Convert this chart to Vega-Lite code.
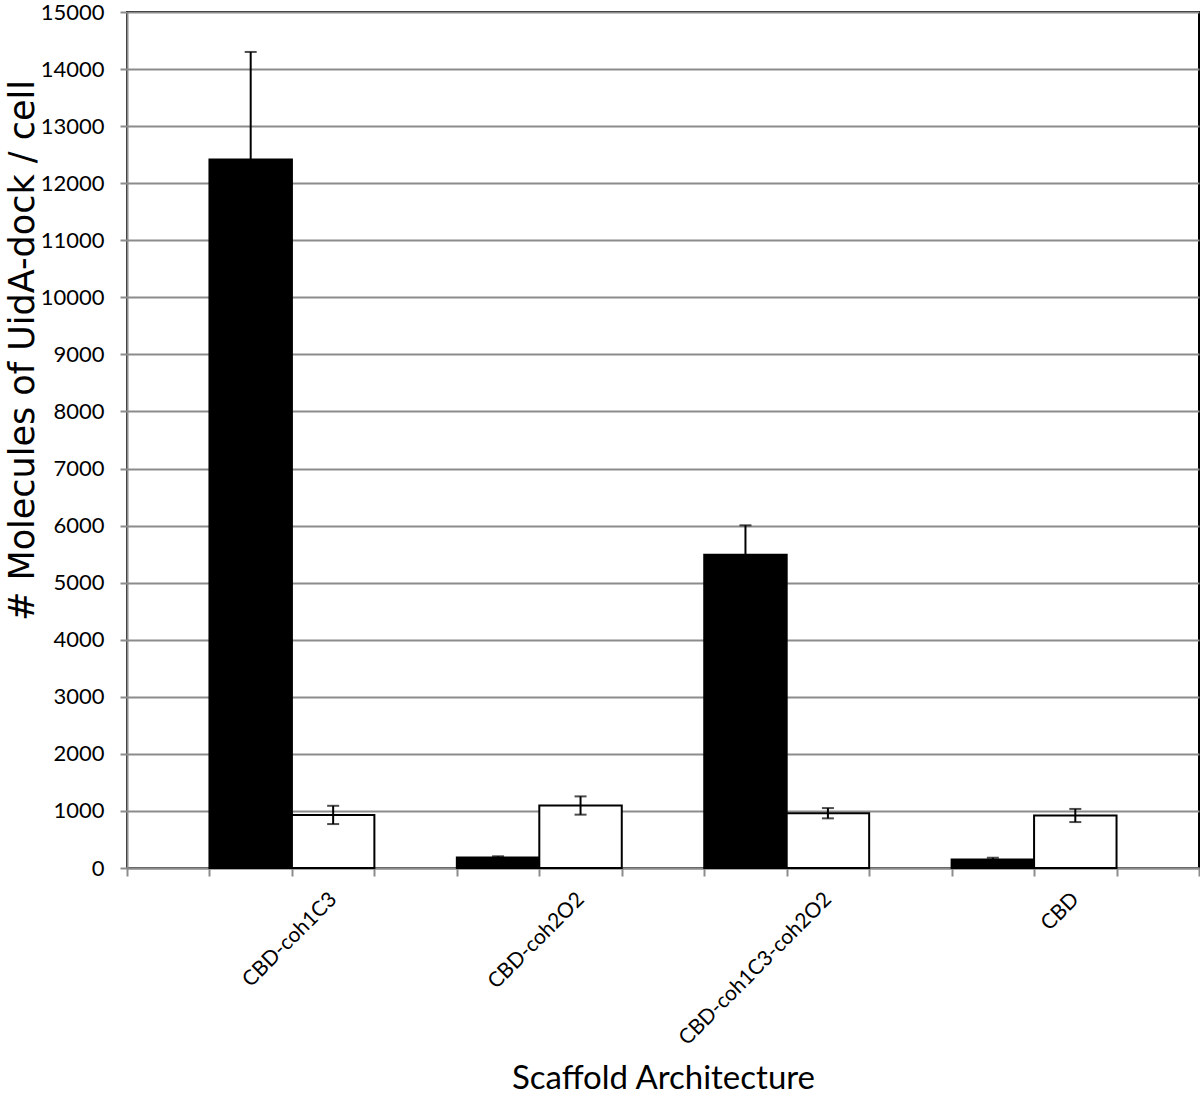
{
  "$schema": "https://vega.github.io/schema/vega-lite/v6.json",
  "width": 1072,
  "height": 856,
  "autosize": {"type": "none"},
  "padding": {"left": 127, "top": 12, "right": 1, "bottom": 227},
  "background": "white",
  "config": {
    "view": {"stroke": "#000000", "strokeWidth": 2},
    "font": "Lato"
  },
  "data": {
    "values": [
      {"bar": "CBD-coh1C3|black", "scaffold": "CBD-coh1C3", "condition": "black", "value": 12415, "lo": 10530, "hi": 14300},
      {"bar": "CBD-coh1C3|white", "scaffold": "CBD-coh1C3", "condition": "white", "value": 930, "lo": 770, "hi": 1090},
      {"bar": "CBD-coh2O2|black", "scaffold": "CBD-coh2O2", "condition": "black", "value": 185, "lo": 165, "hi": 205},
      {"bar": "CBD-coh2O2|white", "scaffold": "CBD-coh2O2", "condition": "white", "value": 1095, "lo": 935, "hi": 1255},
      {"bar": "CBD-coh1C3-coh2O2|black", "scaffold": "CBD-coh1C3-coh2O2", "condition": "black", "value": 5490, "lo": 4975, "hi": 6005},
      {"bar": "CBD-coh1C3-coh2O2|white", "scaffold": "CBD-coh1C3-coh2O2", "condition": "white", "value": 960, "lo": 870, "hi": 1050},
      {"bar": "CBD|black", "scaffold": "CBD", "condition": "black", "value": 150, "lo": 120, "hi": 180},
      {"bar": "CBD|white", "scaffold": "CBD", "condition": "white", "value": 920, "lo": 805, "hi": 1035}
    ]
  },
  "layer": [
    {
      "mark": {"type": "bar", "stroke": "#000000", "strokeWidth": 2},
      "encoding": {
        "x": {
          "field": "bar",
          "type": "nominal",
          "sort": null,
          "scale": {
            "domain": ["gap0", "CBD-coh1C3|black", "CBD-coh1C3|white", "gap1", "CBD-coh2O2|black", "CBD-coh2O2|white", "gap2", "CBD-coh1C3-coh2O2|black", "CBD-coh1C3-coh2O2|white", "gap3", "CBD|black", "CBD|white", "gap4"],
            "paddingInner": 0,
            "paddingOuter": 0
          },
          "axis": {
            "orient": "bottom",
            "title": "Scaffold Architecture",
            "titleFontSize": 33,
            "titleFontWeight": "normal",
            "titleColor": "#000000",
            "titleY": 194,
            "titleBaseline": "top",
            "labelExpr": "isString(datum.value) && indexof(datum.value, '|white') > 0 ? replace(datum.value, '|white', '') : ''",
            "labelAngle": -45,
            "labelAlign": "right",
            "labelBaseline": "middle",
            "labelFontSize": 21,
            "labelColor": "#000000",
            "labelPadding": 20,
            "labelLimit": 500,
            "tickBand": "extent",
            "tickSize": 8,
            "tickColor": "#8c8c8c",
            "tickWidth": 2,
            "domainColor": "#8c8c8c",
            "domainWidth": 2,
            "grid": false
          }
        },
        "y": {
          "field": "value",
          "type": "quantitative",
          "scale": {"domain": [0, 15000], "nice": false},
          "axis": {
            "orient": "left",
            "title": "# Molecules of UidA-dock / cell",
            "titleFont": "DejaVu Sans",
            "titleFontSize": 35,
            "titleFontWeight": "normal",
            "titleColor": "#000000",
            "titleX": -87,
            "titleY": 338,
            "titleAngle": -90,
            "titleAlign": "center",
            "titleBaseline": "bottom",
            "values": [0, 1000, 2000, 3000, 4000, 5000, 6000, 7000, 8000, 9000, 10000, 11000, 12000, 13000, 14000, 15000],
            "format": "d",
            "labelFontSize": 22,
            "labelColor": "#000000",
            "labelPadding": 16,
            "tickSize": 7,
            "tickColor": "#8c8c8c",
            "tickWidth": 2,
            "domainColor": "#8c8c8c",
            "domainWidth": 2,
            "grid": true,
            "gridColor": "#8c8c8c",
            "gridWidth": 2
          }
        },
        "fill": {
          "field": "condition",
          "type": "nominal",
          "scale": {"domain": ["black", "white"], "range": ["#000000", "#ffffff"]},
          "legend": null
        }
      }
    },
    {
      "mark": {"type": "rule", "color": "#000000", "strokeWidth": 2},
      "encoding": {
        "x": {"field": "bar", "type": "nominal"},
        "y": {"field": "lo", "type": "quantitative"},
        "y2": {"field": "hi"}
      }
    },
    {
      "mark": {"type": "tick", "color": "#000000", "size": 12, "thickness": 2, "orient": "horizontal"},
      "encoding": {
        "x": {"field": "bar", "type": "nominal"},
        "y": {"field": "hi", "type": "quantitative"}
      }
    },
    {
      "mark": {"type": "tick", "color": "#000000", "size": 12, "thickness": 2, "orient": "horizontal"},
      "encoding": {
        "x": {"field": "bar", "type": "nominal"},
        "y": {"field": "lo", "type": "quantitative"}
      }
    }
  ]
}
